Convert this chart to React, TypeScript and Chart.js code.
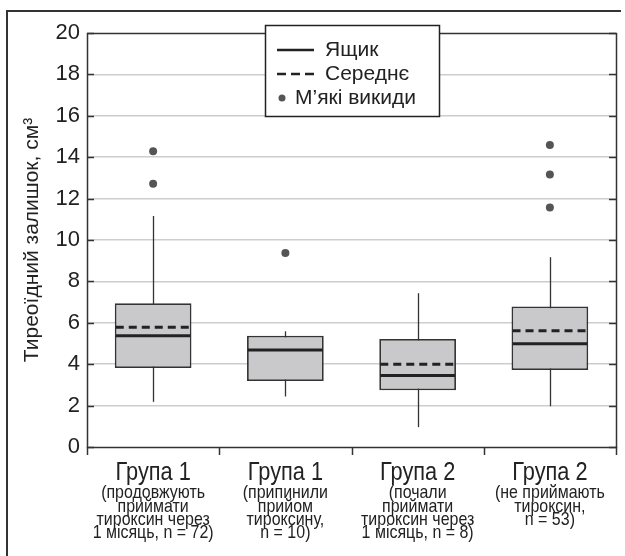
import React, { useEffect, useRef } from 'react';
import { Chart, registerables } from 'chart.js';

Chart.register(...registerables);

const FONT = '"Liberation Sans", Arial, Helvetica, sans-serif';

const groupTitles = ['Група 1', 'Група 1', 'Група 2', 'Група 2'];
const groupNotes = [
  ['(продовжують', 'приймати', 'тироксин через', '1 місяць, n = 72)'],
  ['(припинили', 'прийом', 'тироксину,', 'n = 10)'],
  ['(почали', 'приймати', 'тироксин через', '1 місяць, n = 8)'],
  ['(не приймають', 'тироксин,', 'n = 53)'],
];
const q1 = [3.82, 3.19, 2.74, 3.72];
const q3 = [6.95, 5.38, 5.22, 6.79];
const medians = [5.38, 4.69, 3.45, 4.99];
const means: (number | null)[] = [5.79, null, 4.0, 5.62];
const whiskerLow = [2.18, 2.44, 0.96, 1.97];
const whiskerHigh = [11.16, 5.59, 7.43, 9.17];
const outliers: number[][] = [[14.29, 12.72], [9.37], [], [14.59, 13.17, 11.57]];
const yMin = 0;
const yMax = 20;
const yStep = 2;
const yTitle = 'Тиреоїдний залишок, см³';
const legendLabels = ['Ящик', 'Середнє', 'М’які викиди'];

const maxOut = Math.max(...outliers.map((o) => o.length));
const outlierSets = Array.from({ length: maxOut }, (_, k) => outliers.map((o) => (k < o.length ? o[k] : null)));

const boxPlugin = {
  id: 'boxDecor',
  beforeDatasetsDraw(chart: any) {
    const ctx = chart.ctx;
    const y = chart.scales.y;
    const meta = chart.getDatasetMeta(0);
    ctx.save();
    ctx.strokeStyle = '#333';
    ctx.lineWidth = 1.3;
    meta.data.forEach((bar: any, i: number) => {
      const x = Math.round(bar.x) + 0.5;
      ctx.beginPath();
      ctx.moveTo(x, y.getPixelForValue(whiskerLow[i]));
      ctx.lineTo(x, y.getPixelForValue(whiskerHigh[i]));
      ctx.stroke();
    });
    ctx.restore();
  },
  afterDatasetsDraw(chart: any) {
    const ctx = chart.ctx;
    const y = chart.scales.y;
    const meta = chart.getDatasetMeta(0);
    ctx.save();
    meta.data.forEach((bar: any, i: number) => {
      const l = bar.x - bar.width / 2 + 1;
      const r = bar.x + bar.width / 2 - 1;
      if (means[i] !== null) {
        ctx.strokeStyle = '#222';
        ctx.lineWidth = 3;
        ctx.setLineDash([8, 5]);
        const ym = y.getPixelForValue(means[i] as number);
        ctx.beginPath();
        ctx.moveTo(l, ym);
        ctx.lineTo(r, ym);
        ctx.stroke();
      }
      ctx.setLineDash([]);
      ctx.strokeStyle = '#222';
      ctx.lineWidth = 3;
      const yd = y.getPixelForValue(medians[i]);
      ctx.beginPath();
      ctx.moveTo(l, yd);
      ctx.lineTo(r, yd);
      ctx.stroke();
    });
    ctx.restore();
  },
  afterDraw(chart: any) {
    const ctx = chart.ctx;
    const a = chart.chartArea;
    const ys = chart.scales.y;
    const xs = chart.scales.x;
    ctx.save();
    // outer page frame (only top and left edges fall inside the picture)
    ctx.fillStyle = '#333';
    ctx.fillRect(6, 10, chart.width - 10, 2);
    ctx.fillRect(6, 10, 2, chart.height - 10);
    // plot frame
    ctx.strokeStyle = '#333';
    ctx.lineWidth = 1.5;
    ctx.strokeRect(Math.round(a.left) + 0.5, Math.round(a.top) + 0.5, Math.round(a.right - a.left), Math.round(a.bottom - a.top));
    // y ticks (inward both sides)
    ys.ticks.forEach((t: any) => {
      const yy = Math.round(ys.getPixelForValue(t.value)) + 0.5;
      ctx.beginPath();
      ctx.moveTo(a.left, yy);
      ctx.lineTo(a.left + 7, yy);
      ctx.moveTo(a.right, yy);
      ctx.lineTo(a.right - 7, yy);
      ctx.stroke();
    });
    // x ticks at category boundaries
    const n = groupTitles.length;
    for (let i = 0; i <= n; i++) {
      const xx = Math.round(a.left + (i * (a.right - a.left)) / n) + 0.5;
      ctx.beginPath();
      ctx.moveTo(xx, a.bottom);
      ctx.lineTo(xx, a.bottom + 8);
      ctx.stroke();
    }
    // x labels
    ctx.fillStyle = '#222';
    ctx.textAlign = 'center';
    ctx.textBaseline = 'middle';
    groupTitles.forEach((title, i) => {
      const cx = xs.getPixelForValue(i);
      ctx.font = `25px ${FONT}`;
      ctx.save();
      ctx.translate(cx, a.bottom + 26);
      ctx.scale(0.87, 1);
      ctx.fillText(title, 0, 0);
      ctx.restore();
      ctx.font = `19px ${FONT}`;
      groupNotes[i].forEach((line, k) => {
        ctx.save();
        ctx.translate(cx, a.bottom + 46 + k * 13.3);
        ctx.scale(0.84, 1);
        ctx.fillText(line, 0, 0);
        ctx.restore();
      });
    });
    // legend
    const lx = 265, ly = 25, lw = 174, lh = 91;
    ctx.fillStyle = '#fff';
    ctx.fillRect(lx, ly, lw, lh);
    ctx.strokeStyle = '#222';
    ctx.lineWidth = 1.5;
    ctx.strokeRect(lx + 0.5, ly + 0.5, lw, lh);
    ctx.fillStyle = '#222';
    ctx.textAlign = 'left';
    ctx.font = `21px ${FONT}`;
    const rows = [50, 74, 98];
    ctx.lineWidth = 2.5;
    ctx.beginPath();
    ctx.moveTo(277, rows[0]);
    ctx.lineTo(314, rows[0]);
    ctx.stroke();
    ctx.setLineDash([9, 5]);
    ctx.beginPath();
    ctx.moveTo(277, rows[1]);
    ctx.lineTo(314, rows[1]);
    ctx.stroke();
    ctx.setLineDash([]);
    ctx.fillStyle = '#555';
    ctx.beginPath();
    ctx.arc(282, rows[2], 3.5, 0, Math.PI * 2);
    ctx.fill();
    ctx.fillStyle = '#222';
    ctx.fillText(legendLabels[0], 325, rows[0]);
    ctx.fillText(legendLabels[1], 325, rows[1]);
    ctx.fillText(legendLabels[2], 295, rows[2]);
    ctx.restore();
  },
};

export default function App() {
  const ref = useRef<HTMLCanvasElement | null>(null);
  useEffect(() => {
    if (!ref.current) return;
    const chart = new Chart(ref.current, {
      type: 'bar',
      data: {
        labels: groupTitles.map((t, i) => `${t} ${i}`),
        datasets: [
          {
            type: 'bar',
            data: q1.map((v, i) => [v, q3[i]]) as any,
            backgroundColor: '#c9c9cb',
            borderColor: '#333',
            borderWidth: 1.8,
            borderSkipped: false,
            barPercentage: 0.58,
            categoryPercentage: 1,
            grouped: false,
            order: 2,
          } as any,
          ...outlierSets.map((set) => ({
            type: 'line',
            data: set,
            showLine: false,
            pointRadius: 4,
            pointBackgroundColor: '#555',
            pointBorderWidth: 0,
            borderColor: '#555',
            order: 1,
          })) as any,
        ],
      },
      options: {
        animation: false,
        responsive: false,
        maintainAspectRatio: false,
        layout: { padding: { left: 0, right: 9, top: 33, bottom: 109 } },
        plugins: { legend: { display: false }, tooltip: { enabled: false } },
        scales: {
          x: {
            ticks: { display: false },
            grid: { display: false },
            border: { display: false },
            afterFit: (s: any) => {
              s.height = 0;
            },
          },
          y: {
            min: yMin,
            max: yMax,
            ticks: { stepSize: yStep, font: { size: 22, family: FONT }, color: '#222', padding: 7 },
            grid: {
              color: (c: any) => (c.tick && (c.tick.value === yMin || c.tick.value === yMax) ? 'rgba(0,0,0,0)' : '#cdcdcd'),
              lineWidth: 1.5,
              drawTicks: false,
            },
            border: { display: false },
            title: {
              display: true,
              text: yTitle,
              font: { size: 21, family: FONT },
              color: '#222',
              padding: { top: 20, bottom: 0 },
            },
            afterFit: (s: any) => {
              s.width = 87;
            },
          },
        },
      },
      plugins: [boxPlugin],
    });
    return () => chart.destroy();
  }, []);
  return (
    <div style={{ position: 'fixed', left: 0, top: 0, width: 625, height: 556, overflow: 'hidden', background: '#fff' }}>
      <canvas ref={ref} width={625} height={556} style={{ display: 'block', position: 'absolute', left: 0, top: 0 }} />
    </div>
  );
}
